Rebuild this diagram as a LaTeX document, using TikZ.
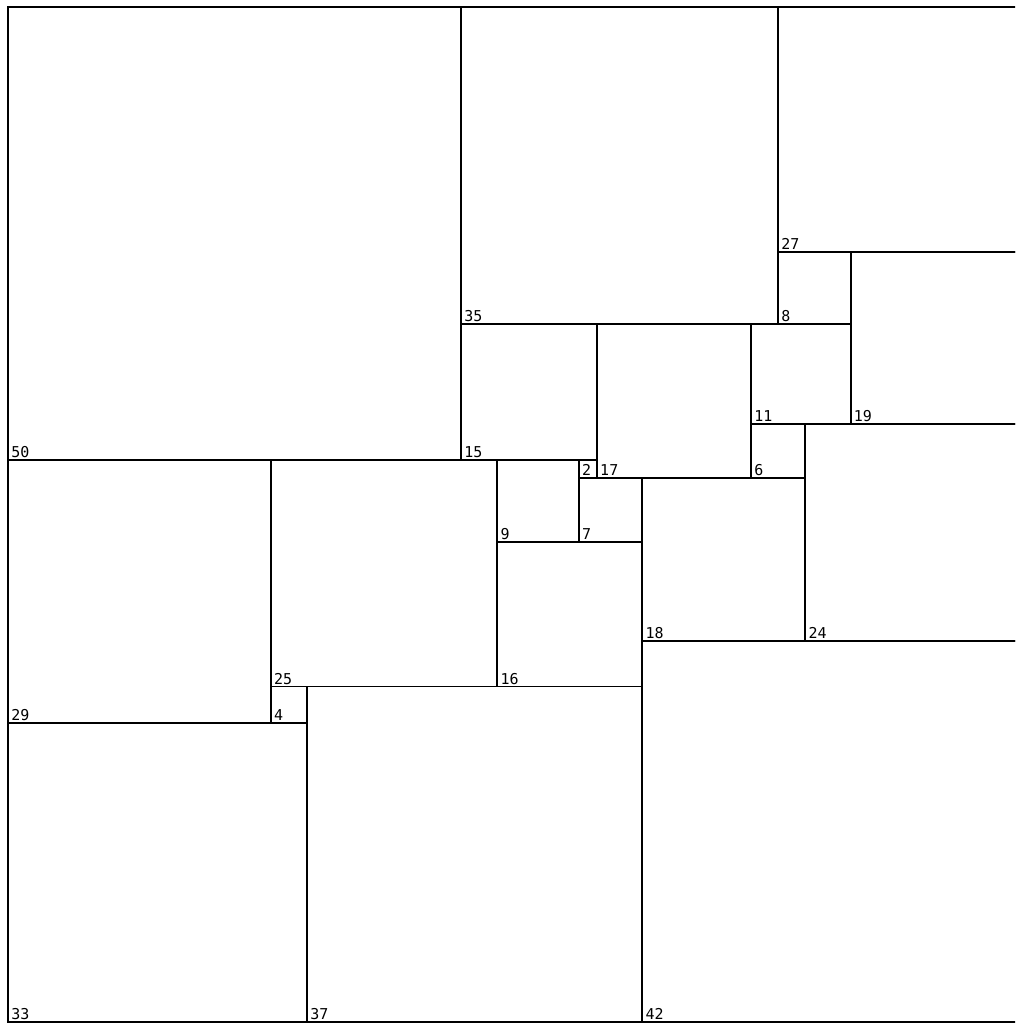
\documentclass[tikz,border=0pt]{standalone}
\usepackage{fontspec}
\newfontfamily\lblfont{DejaVu Sans Mono}
\begin{document}
\begin{tikzpicture}[x=1mm,y=-1mm,
  sq/.style={draw=black, line width=0.6pt, inner sep=0pt, outer sep=0pt, anchor=north west},
  lbl/.style={anchor=base west, inner sep=0pt, font=\lblfont\fontsize{4.7pt}{5pt}\selectfont}]
\useasboundingbox (-0.88,-0.77) rectangle (111.15,112.58);
\clip (-0.88,-0.77) rectangle (111.15,112.58);
\foreach \x/\y/\s in {0/0/50, 50/0/35, 85/0/27, 85/27/8, 93/27/19, 50/35/15, 65/35/17,
  82/35/11, 82/46/6, 88/46/24, 0/50/29, 29/50/25, 54/50/9, 63/50/2, 63/52/7,
  70/52/18, 54/59/16, 70/70/42, 29/75/4, 33/75/37, 0/79/33} {
  \node[sq, minimum size=\s mm] (s\s) at (\x,\y) {};
  \node[lbl] (l\s) at ([xshift=0.85pt, yshift=0.7pt]s\s.south west) {\s};
}
\end{tikzpicture}
\end{document}
